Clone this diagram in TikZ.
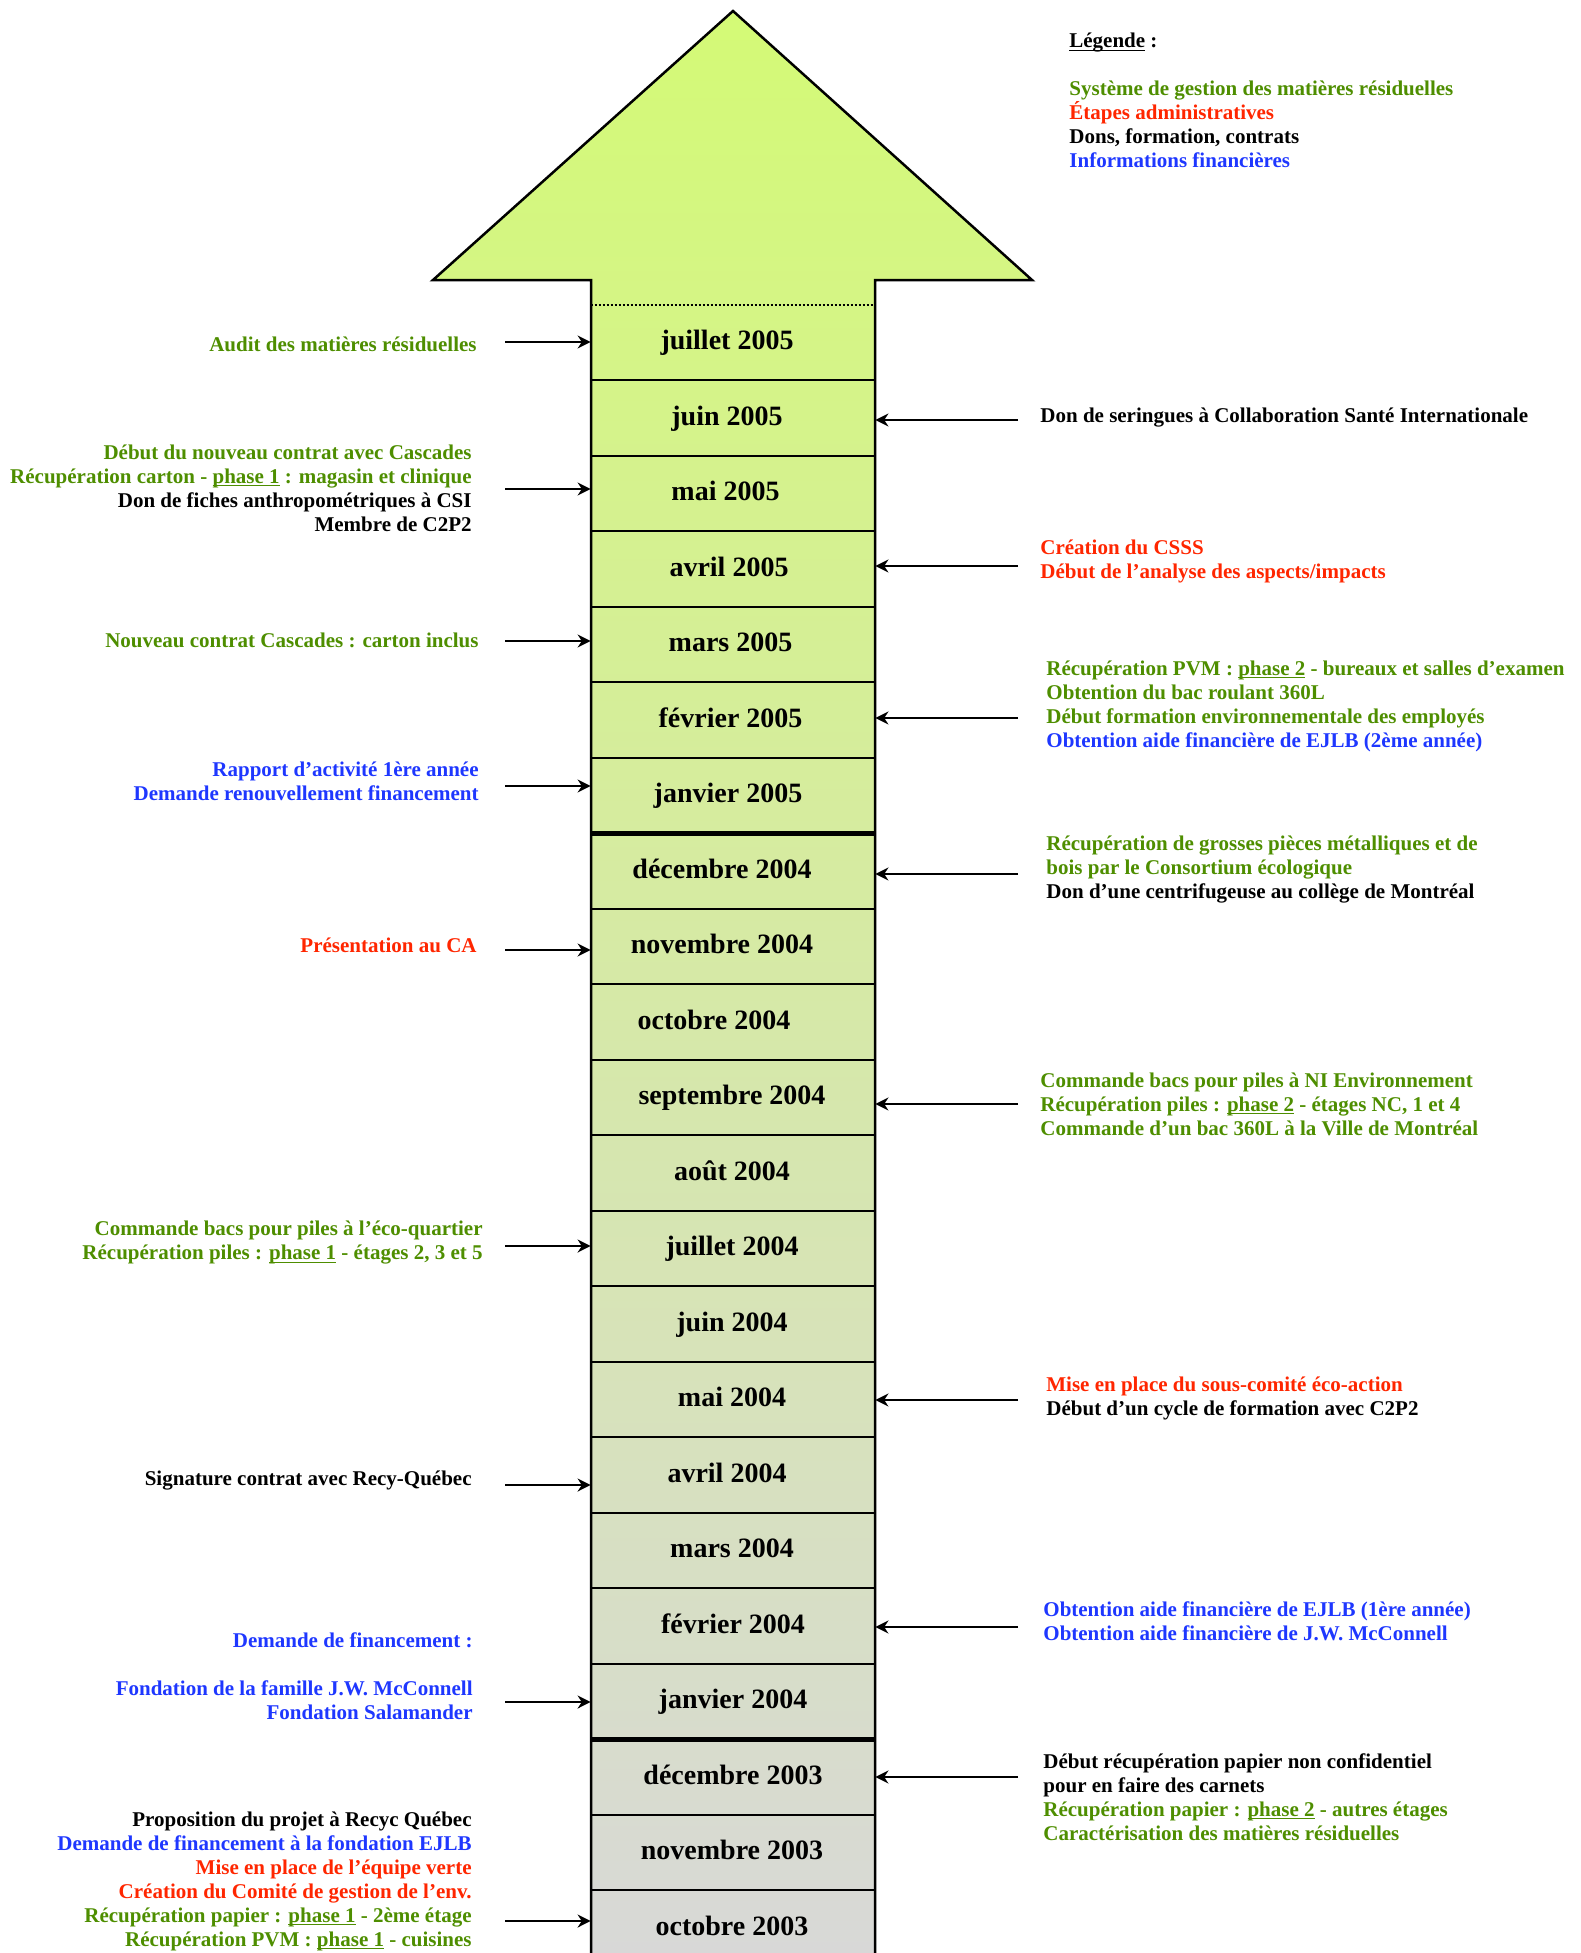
\documentclass[tikz,border=0pt]{standalone}
\usepackage{fontspec}
\setmainfont{Liberation Serif}
\usetikzlibrary{arrows.meta}

\definecolor{vertsgmr}{RGB}{78,142,0}
\definecolor{rougeadm}{RGB}{255,38,0}
\definecolor{bleufin}{RGB}{30,55,255}
\definecolor{hautfleche}{RGB}{212,250,118}
\definecolor{basfleche}{RGB}{216,216,216}

% soulignement proche de la ligne de base
\newcommand{\souligne}[1]{{\setbox0\hbox{#1}\rlap{\rule[-1.6pt]{\wd0}{0.5pt}}\box0}}

\tikzset{
  mois/.style={minimum width=142pt, minimum height=37.75pt, inner sep=0pt},
  etiquette/.style={inner sep=0pt, text height=10pt, text depth=3pt,
    font=\fontsize{14}{16}\selectfont\bfseries},
  evtg/.style={anchor=east, align=right, inner sep=0pt,
    font=\fontsize{10.5}{12}\selectfont\bfseries},
  evtd/.style={anchor=west, align=left, inner sep=0pt,
    font=\fontsize{10.5}{12}\selectfont\bfseries},
  fleche/.style={-{Stealth[length=6.5pt, width=6.5pt]}, line width=1.25pt}
}

\begin{document}
\begin{tikzpicture}[x=0.5pt, y=-0.5pt]
\useasboundingbox (0,0) rectangle (1580,1953);

% Flèche du temps
\shade[top color=hautfleche, bottom color=basfleche]
  (591,1970) -- (591,280) -- (433,280) -- (733,11) -- (1032,280) -- (875,280) -- (875,1970) -- cycle;

% Mois
\foreach \nom/\dx [count=\i from 0] in {juillet 2005/-6, juin 2005/-6, mai 2005/-7.5, avril 2005/-4,
    mars 2005/-2.5, février 2005/-2.5, janvier 2005/-5, décembre 2004/-11, novembre 2004/-11,
    octobre 2004/-19, septembre 2004/-1, août 2004/-1, juillet 2004/-1, juin 2004/-1, mai 2004/-1,
    avril 2004/-6, mars 2004/-1, février 2004/0, janvier 2004/0, décembre 2003/0,
    novembre 2003/-1, octobre 2003/-1} {
  \node[mois] (m\i) at (733,{342.75+75.5*\i}) {};
  \node[etiquette] (t\i) at ([xshift=\dx*0.5pt]m\i.center) {\nom};
}
\foreach \i in {1,...,21}
  \draw[line width=1pt] (m\i.north west) -- (m\i.north east);
\draw[line width=2.5pt] (m7.north west) -- (m7.north east);
\draw[line width=2.5pt] (m19.north west) -- (m19.north east);

\draw[line width=1.25pt] (591,1970) -- (591,280) -- (433,280) -- (733,11) -- (1032,280) -- (875,280) -- (875,1970);
\draw[line width=1pt, dash pattern=on 1pt off 1pt] (m0.north west) -- (m0.north east);

% Légende
\node[anchor=north west, align=left, inner sep=0pt, font=\fontsize{10.5}{12}\selectfont\bfseries]
  (legende) at (1069,33) {\souligne{Légende} :\\[12pt]
  \textcolor{vertsgmr}{Système de gestion des matières résiduelles}\\
  \textcolor{rougeadm}{Étapes administratives}\\
  Dons, formation, contrats\\
  \textcolor{bleufin}{Informations financières}};

% Événements à gauche
\node[evtg, text=vertsgmr] (audit) at (477,344) {Audit des matières résiduelles};
\node[evtg] (cascades) at (472,488) {\textcolor{vertsgmr}{Début du nouveau contrat avec Cascades}\\
  \textcolor{vertsgmr}{Récupération carton - \souligne{phase 1} : magasin et clinique}\\
  Don de fiches anthropométriques à CSI\\
  Membre de C2P2};
\node[evtg, text=vertsgmr] (carton) at (479,640) {Nouveau contrat Cascades : carton inclus};
\node[evtg, text=bleufin] (rapport) at (479,781) {Rapport d’activité 1ère année\\
  Demande renouvellement financement};
\node[evtg, text=rougeadm] (ca) at (477,945) {Présentation au CA};
\node[evtg, text=vertsgmr] (piles1) at (483,1243) {Commande bacs pour piles à l’éco-quartier\\
  Récupération piles : \souligne{phase 1} - étages 2, 3 et 5};
\node[evtg] (recyq) at (472,1481) {Signature contrat avec Recy-Québec};
\node[evtg, text=bleufin] (demande) at (473,1676) {Demande de financement :\\[12pt]
  Fondation de la famille J.W. McConnell\\
  Fondation Salamander};
\node[evtg] (debut) at (472,1881) {Proposition du projet à Recyc Québec\\
  \textcolor{bleufin}{Demande de financement à la fondation EJLB}\\
  \textcolor{rougeadm}{Mise en place de l’équipe verte}\\
  \textcolor{rougeadm}{Création du Comité de gestion de l’env.}\\
  \textcolor{vertsgmr}{Récupération papier : \souligne{phase 1} - 2ème étage}\\
  \textcolor{vertsgmr}{Récupération PVM : \souligne{phase 1} - cuisines}};

% Événements à droite
\node[evtd] (seringues) at (1040,418) {Don de seringues à Collaboration Santé Internationale};
\node[evtd, text=rougeadm] (csss) at (1040,561) {Création du CSSS\\
  Début de l’analyse des aspects/impacts};
\node[evtd, text=vertsgmr] (pvm2) at (1046,706) {Récupération PVM : \souligne{phase 2} - bureaux et salles d’examen\\
  Obtention du bac roulant 360L\\
  Début formation environnementale des employés\\
  \textcolor{bleufin}{Obtention aide financière de EJLB (2ème année)}};
\node[evtd] (consortium) at (1046,870) {\textcolor{vertsgmr}{Récupération de grosses pièces métalliques et de}\\
  \textcolor{vertsgmr}{bois par le Consortium écologique}\\
  Don d’une centrifugeuse au collège de Montréal};
\node[evtd, text=vertsgmr] (piles2) at (1040,1104) {Commande bacs pour piles à NI Environnement\\
  Récupération piles : \souligne{phase 2} - étages NC, 1 et 4\\
  Commande d’un bac 360L à la Ville de Montréal};
\node[evtd] (ecoaction) at (1046,1398) {\textcolor{rougeadm}{Mise en place du sous-comité éco-action}\\
  Début d’un cycle de formation avec C2P2};
\node[evtd, text=bleufin] (aide1) at (1043,1621) {Obtention aide financière de EJLB (1ère année)\\
  Obtention aide financière de J.W. McConnell};
\node[evtd] (papier2) at (1043,1797) {Début récupération papier non confidentiel\\
  pour en faire des carnets\\
  \textcolor{vertsgmr}{Récupération papier : \souligne{phase 2} - autres étages}\\
  \textcolor{vertsgmr}{Caractérisation des matières résiduelles}};

% Flèches vers les mois
\foreach \y/\r in {342/0, 489/2, 641/4, 786/6, 950/8, 1246/12, 1485/15, 1702/18, 1921/21} {
  \coordinate (g\r) at (505,\y);
  \draw[fleche] (g\r) -- (g\r -| m\r.west);
}
\foreach \y/\r in {420/1, 566/3, 718/5, 874/7, 1104/10, 1400/14, 1627/17, 1777/19} {
  \coordinate (d\r) at (1018,\y);
  \draw[fleche] (d\r) -- (d\r -| m\r.east);
}
\end{tikzpicture}
\end{document}
